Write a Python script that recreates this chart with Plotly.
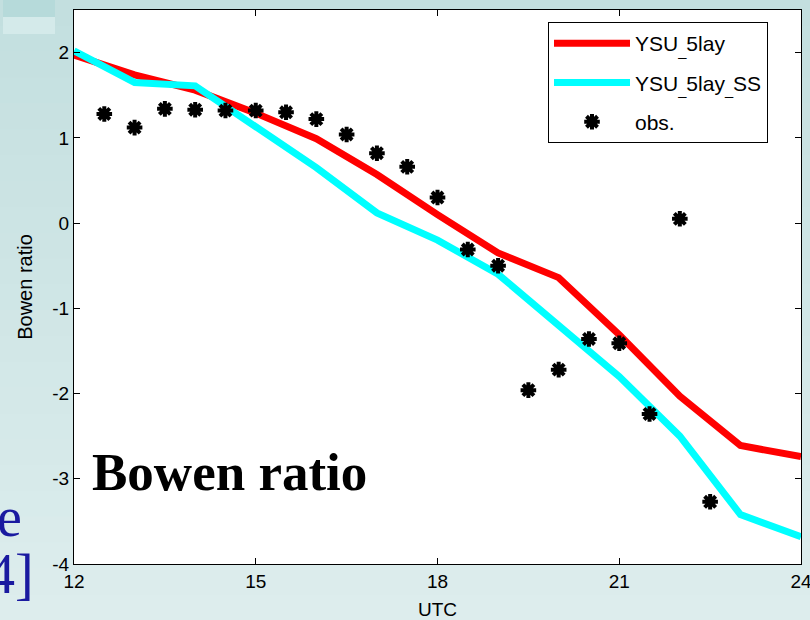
import plotly.graph_objects as go

# ---- data ----
model_hours = [12, 13, 14, 15, 16, 17, 18, 19, 20, 21, 22, 23, 24]
ysu_5lay = [1.97, 1.74, 1.56, 1.29, 0.99, 0.57, 0.10, -0.35, -0.64, -1.31, -2.03, -2.61, -2.74]
ysu_5lay_ss = [2.02, 1.65, 1.61, 1.13, 0.65, 0.12, -0.20, -0.60, -1.21, -1.80, -2.50, -3.42, -3.68]

obs_hours = [12.5, 13, 13.5, 14, 14.5, 15, 15.5, 16, 16.5, 17, 17.5, 18, 18.5, 19,
             19.5, 20, 20.5, 21, 21.5, 22, 22.5]
obs_vals = [1.28, 1.12, 1.34, 1.33, 1.32, 1.32, 1.30, 1.22, 1.04, 0.82, 0.66, 0.30,
            -0.31, -0.50, -1.96, -1.72, -1.36, -1.41, -2.24, 0.05, -3.27]

x_ticks = [12, 15, 18, 21, 24]
y_ticks = [-4, -3, -2, -1, 0, 1, 2]

# ---- figure ----
W, H = 810, 620
ML, MR, MT, MB = 74, 9, 10, 56
pw, ph = W - ML - MR, H - MT - MB


def px(p):
    return (p - ML) / pw


def py(p):
    return (H - MB - p) / ph


SANS = "Liberation Sans, Arial, sans-serif"
SERIF = "Liberation Serif, Times New Roman, serif"

fig = go.Figure()
fig.add_trace(go.Scatter(x=model_hours, y=ysu_5lay, mode="lines", name="YSU<sub>_</sub>5lay",
                         line=dict(color="#ff0000", width=7), legendgroup="a"))
fig.add_trace(go.Scatter(x=model_hours, y=ysu_5lay_ss, mode="lines",
                         name="YSU<sub>_</sub>5lay<sub>_</sub>SS",
                         line=dict(color="#00ffff", width=7), legendgroup="b"))
fig.add_trace(go.Scatter(x=obs_hours, y=obs_vals, mode="markers", name="obs.",
                         marker=dict(symbol="asterisk-open", size=13, color="black",
                                     line=dict(color="black", width=4)),
                         legendgroup="c"))

shapes = []
# background gradient bands (slide background)
top_c = (0xC3, 0xDF, 0xDF)
bot_c = (0xDD, 0xED, 0xED)
N = 24
y0p, y1p = py(H), py(0)
for i in range(N):
    t = i / (N - 1)
    c = tuple(int(round(bot_c[k] + (top_c[k] - bot_c[k]) * t)) for k in range(3))
    ya = y0p + (y1p - y0p) * i / N
    yb = y0p + (y1p - y0p) * (i + 1) / N
    shapes.append(dict(type="rect", xref="paper", yref="paper", x0=px(0), x1=px(W),
                       y0=ya, y1=yb + 0.002, fillcolor="rgb(%d,%d,%d)" % c,
                       line=dict(width=0), layer="below"))
# light box top-left
shapes.append(dict(type="rect", xref="paper", yref="paper", x0=px(3), x1=px(55),
                   y0=py(17), y1=py(0), fillcolor="#b6dada", line=dict(width=0), layer="below"))
shapes.append(dict(type="rect", xref="paper", yref="paper", x0=px(3), x1=px(55),
                   y0=py(34), y1=py(17), fillcolor="#d4eaea", line=dict(width=0), layer="below"))
# white plot area
shapes.append(dict(type="rect", xref="paper", yref="paper", x0=0, x1=1, y0=0, y1=1,
                   fillcolor="white", line=dict(width=0), layer="below"))

annotations = [
    dict(text="<b>Bowen ratio</b>", xref="paper", yref="paper", x=px(90), y=py(472),
         xanchor="left", yanchor="middle", showarrow=False,
         font=dict(family=SERIF, size=53, color="black")),
    dict(text="e", xref="paper", yref="paper", x=px(24), y=py(517),
         xanchor="right", yanchor="middle", showarrow=False,
         font=dict(family=SERIF, size=56, color="#1a1aa0")),
    dict(text="4]", xref="paper", yref="paper", x=px(36), y=py(574),
         xanchor="right", yanchor="middle", showarrow=False,
         font=dict(family=SERIF, size=56, color="#1a1aa0")),
]

axis_common = dict(showline=True, linecolor="black", linewidth=1, mirror="ticks",
                   ticks="inside", ticklen=6, tickcolor="black", tickwidth=1,
                   showgrid=False, zeroline=False, automargin=False,
                   tickfont=dict(family=SANS, size=19, color="black"))

fig.update_layout(
    width=W, height=H,
    margin=dict(l=ML, r=MR, t=MT, b=MB, autoexpand=False),
    paper_bgcolor="#d1e7e7", plot_bgcolor="rgba(0,0,0,0)",
    font=dict(family=SANS, size=18, color="black"),
    xaxis=dict(range=[12, 24], tickvals=x_ticks, ticktext=[str(v) for v in x_ticks],
               ticklabeloverflow="allow",
               title=dict(text="UTC", standoff=11, font=dict(family=SANS, size=19)),
               **axis_common),
    yaxis=dict(range=[-4, 2.5], tickvals=y_ticks, ticktext=[str(v) for v in y_ticks],
               title=dict(text="Bowen ratio", standoff=14, font=dict(family=SANS, size=20)),
               **axis_common),
    legend=dict(x=px(548), y=py(22), xanchor="left", yanchor="top",
                bgcolor="white", bordercolor="black", borderwidth=1,
                font=dict(family=SANS, size=21, color="black"),
                traceorder="grouped", tracegroupgap=9, itemwidth=76),
    shapes=shapes,
    annotations=annotations,
)

fig.write_html("out.html")
